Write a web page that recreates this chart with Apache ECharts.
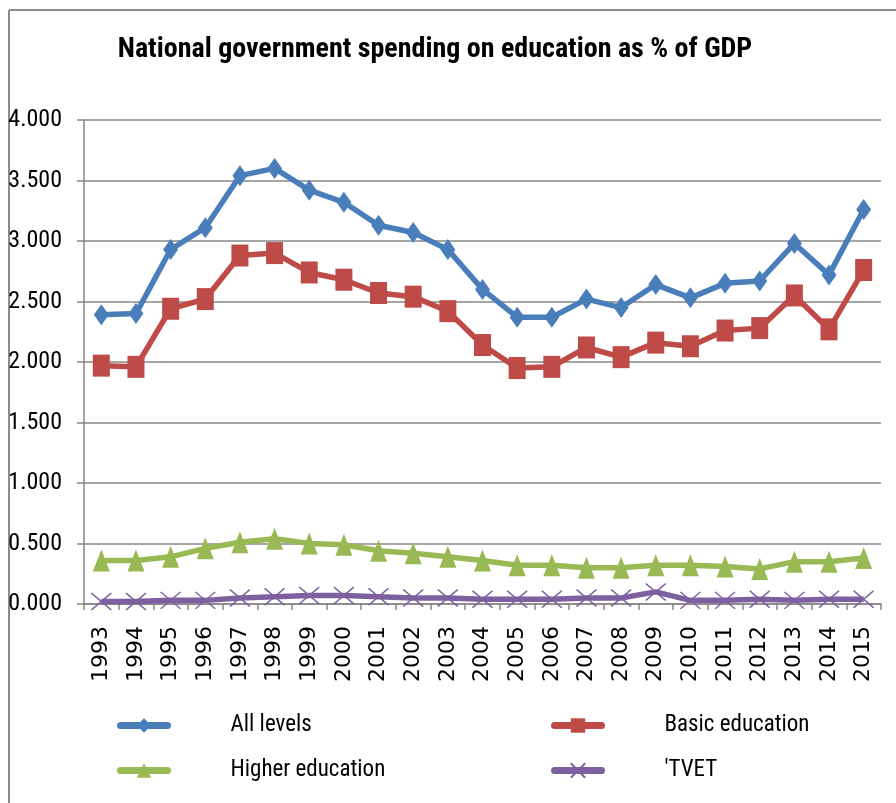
<!DOCTYPE html>
<html>
<head>
<meta charset="utf-8">
<script src="https://cdn.jsdelivr.net/npm/echarts@6/dist/echarts.min.js"></script>
<style>
  html, body { margin: 0; padding: 0; background: #ffffff; }
  #chart { width: 896px; height: 803px; }
</style>
</head>
<body>
<div id="chart"></div>
<script>
// Years on the category axis
const years = ['1993','1994','1995','1996','1997','1998','1999','2000','2001','2002','2003',
               '2004','2005','2006','2007','2008','2009','2010','2011','2012','2013','2014','2015'];

// Spending as % of GDP
const allLevels = [2.39, 2.40, 2.93, 3.11, 3.54, 3.60, 3.42, 3.32, 3.13, 3.07, 2.93,
                   2.60, 2.37, 2.37, 2.52, 2.45, 2.64, 2.53, 2.65, 2.67, 2.98, 2.72, 3.26];
const basicEducation = [1.97, 1.96, 2.44, 2.52, 2.88, 2.90, 2.74, 2.68, 2.57, 2.54, 2.42,
                        2.14, 1.95, 1.96, 2.12, 2.04, 2.16, 2.13, 2.26, 2.28, 2.55, 2.27, 2.76];
const higherEducation = [0.36, 0.36, 0.39, 0.46, 0.51, 0.54, 0.50, 0.49, 0.44, 0.42, 0.39,
                         0.36, 0.32, 0.32, 0.30, 0.30, 0.32, 0.32, 0.31, 0.29, 0.35, 0.35, 0.38];
const tvet = [0.02, 0.02, 0.03, 0.03, 0.05, 0.06, 0.07, 0.07, 0.06, 0.05, 0.05,
              0.04, 0.04, 0.04, 0.05, 0.05, 0.10, 0.03, 0.03, 0.04, 0.03, 0.04, 0.04];

const seriesNames = ['All levels', 'Basic education', 'Higher education', "'TVET"];
const colors = ['#4a7ebb', '#be4b48', '#98b954', '#7d60a0'];

const narrow = '"Liberation Sans Narrow", "Arial Narrow", "Roboto Condensed", "Liberation Sans", sans-serif';
const crossPath = 'path://M0,0L10,10M10,0L0,10';

function lineSeries(name, data, color, symbol, size) {
  return {
    name: name,
    type: 'line',
    data: data,
    symbol: symbol,
    symbolSize: size,
    showAllSymbol: true,
    lineStyle: { color: color, width: 5.5 },
    itemStyle: { color: color, borderColor: color, borderWidth: symbol === crossPath ? 1.5 : 0 },
    z: 3
  };
}

function legendAt(name, left, top) {
  return {
    data: [name],
    left: left,
    top: top,
    itemWidth: 47,
    itemHeight: 18,
    lineStyle: { width: 7, cap: 'round' },
    textStyle: { fontFamily: narrow, fontSize: 23, color: '#000', padding: [0, 0, 0, 58] },
    selectedMode: false
  };
}

const chart = echarts.init(document.getElementById('chart'), null, { renderer: 'canvas' });

chart.setOption({
  backgroundColor: '#ffffff',
  animation: false,
  title: {
    text: 'National government spending on education as % of GDP',
    left: 430,
    textAlign: 'center',
    top: 31,
    textStyle: { fontFamily: narrow, fontWeight: 'bold', fontSize: 28, color: '#000' }
  },
  legend: [
    legendAt(seriesNames[0], 112, 709),
    legendAt(seriesNames[1], 546, 709),
    legendAt(seriesNames[2], 112, 754),
    legendAt(seriesNames[3], 546, 754)
  ],
  grid: { left: 84, right: 15, top: 120, bottom: 199, containLabel: false },
  xAxis: {
    type: 'category',
    data: years,
    boundaryGap: true,
    axisLine: { lineStyle: { color: '#878787', width: 1.5 } },
    axisTick: { show: true, length: 6, inside: false, lineStyle: { color: '#878787', width: 1.5 } },
    axisLabel: { rotate: 90, margin: 22, fontFamily: '"DejaVu Sans", Verdana, sans-serif', fontSize: 22, color: '#000' },
    splitLine: { show: false }
  },
  yAxis: {
    type: 'value',
    min: 0,
    max: 4,
    interval: 0.5,
    axisLine: { show: true, lineStyle: { color: '#878787', width: 1.5 } },
    axisTick: { show: true, length: 7, lineStyle: { color: '#878787', width: 1.5 } },
    axisLabel: {
      margin: 22,
      fontFamily: narrow,
      fontSize: 24,
      color: '#000',
      formatter: v => v.toFixed(3)
    },
    splitLine: { show: true, lineStyle: { color: '#878787', width: 1.5 } }
  },
  graphic: [
    { type: 'line', shape: { x1: 9, y1: 10, x2: 896, y2: 10 }, style: { stroke: '#8c8c8c', lineWidth: 2 } },
    { type: 'line', shape: { x1: 9, y1: 10, x2: 9, y2: 803 }, style: { stroke: '#8c8c8c', lineWidth: 2 } }
  ],
  series: [
    lineSeries(seriesNames[0], allLevels, colors[0], 'diamond', [15, 21]),
    lineSeries(seriesNames[1], basicEducation, colors[1], 'rect', [17, 22]),
    lineSeries(seriesNames[2], higherEducation, colors[2], 'triangle', [17, 22]),
    lineSeries(seriesNames[3], tvet, colors[3], crossPath, [20, 17])
  ]
});
</script>
</body>
</html>
